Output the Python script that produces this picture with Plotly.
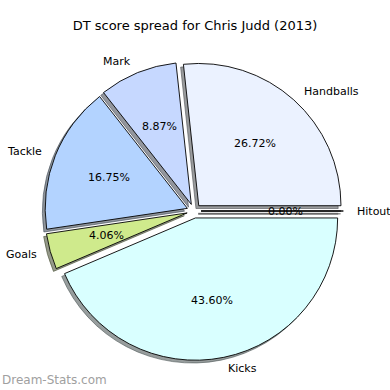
import math
import plotly.graph_objects as go

labels = ["Hitout", "Handballs", "Mark", "Tackle", "Goals", "Kicks"]
values = [0.00, 26.72, 8.87, 16.75, 4.06, 43.60]
colors = ["#ffffff", "#ebf2ff", "#c6d8ff", "#b3d3ff", "#cfea8c", "#d9ffff"]
title = "DT score spread for Chris Judd (2013)"
watermark = "Dream-Stats.com"

W = H = 390
CX, CY = 194.0, 211.0     # pie centre, px from top-left
R = 140.0                 # radius, px
PULL = 0.05
LABELDIST = 1.1
PCTDIST = 0.6
SHADOW = 2.8              # px, left/down
FONT = "DejaVu Sans"

def px2paper(x, y):
    return x / W, 1 - y / H

half = R * (1 + PULL) * 1.016

def domain(dx=0.0, dy=0.0):
    x0, y0 = px2paper(CX - half + dx, CY + half + dy)
    x1, y1 = px2paper(CX + half + dx, CY - half + dy)
    return dict(x=[x0, x1], y=[y0, y1])

def shade(hexc):
    r, g, b = (int(hexc[i:i + 2], 16) for i in (1, 3, 5))
    return "rgba(%d,%d,%d,0.55)" % (r * 0.3, g * 0.3, b * 0.3)

pulls = [PULL] * len(values)
total = sum(values)

fig = go.Figure()
fig.add_trace(go.Pie(
    labels=labels, values=values, sort=False, direction="counterclockwise",
    rotation=90, pull=pulls, textinfo="none", hoverinfo="skip",
    marker=dict(colors=[shade(c) for c in colors], line=dict(width=1, color=[shade(c) for c in colors])),
    domain=domain(-SHADOW, SHADOW), showlegend=False,
))
fig.add_trace(go.Pie(
    labels=labels, values=values, sort=False, direction="counterclockwise",
    rotation=90, pull=pulls, textinfo="none", hoverinfo="skip",
    marker=dict(colors=colors, line=dict(width=0.9, color="black")),
    domain=domain(), showlegend=False,
))

annotations = []
shapes = []
theta0 = 0.0
for lab, v in zip(labels, values):
    frac = v / total
    theta1 = theta0 + 360 * frac
    mid = math.radians((theta0 + theta1) / 2)
    c, s = math.cos(mid), math.sin(mid)
    ex, ey = CX + PULL * R * c, CY - PULL * R * s
    # label
    lx, ly = px2paper(ex + LABELDIST * R * c, ey - LABELDIST * R * s)
    annotations.append(dict(x=lx, y=ly, xref="paper", yref="paper", text=lab,
                            showarrow=False, xanchor="left" if c > 0 else "right",
                            yanchor="middle", font=dict(family=FONT, size=11, color="black")))
    # percentage
    tx, ty = px2paper(ex + PCTDIST * R * c, ey - PCTDIST * R * s)
    annotations.append(dict(x=tx, y=ty, xref="paper", yref="paper", text="%.2f%%" % (100 * frac),
                            showarrow=False, xanchor="center", yanchor="middle",
                            font=dict(family=FONT, size=11, color="black")))
    if v == 0:
        x0, y0 = px2paper(ex, ey)
        x1, y1 = px2paper(ex + R * c, ey - R * s)
        sx0, sy0 = px2paper(ex - SHADOW, ey + SHADOW)
        sx1, sy1 = px2paper(ex + R * c - SHADOW, ey - R * s + SHADOW)
        shapes.append(dict(type="line", xref="paper", yref="paper", x0=sx0, y0=sy0, x1=sx1, y1=sy1,
                           line=dict(color=shade(colors[labels.index(lab)]), width=2), layer="below"))
        shapes.append(dict(type="line", xref="paper", yref="paper", x0=x0, y0=y0, x1=x1, y1=y1,
                           line=dict(color="black", width=1)))
    theta0 = theta1

annotations.append(dict(x=0, y=1 - 380 / H, xref="paper", yref="paper", text=watermark,
                        showarrow=False, xanchor="left", yanchor="middle",
                        font=dict(family=FONT, size=12, color="#a0a0a0")))

fig.update_layout(
    width=W, height=H, margin=dict(l=0, r=0, t=0, b=0),
    paper_bgcolor="white", plot_bgcolor="white",
    title=dict(text=title, x=0.5, xanchor="center", y=1 - 25 / H, yanchor="middle",
               font=dict(family=FONT, size=13, color="black")),
    annotations=annotations, shapes=shapes,
)
fig.write_html("out.html", config={"displayModeBar": False},
               post_script="document.body.style.margin='0';document.body.style.overflow='hidden';")
